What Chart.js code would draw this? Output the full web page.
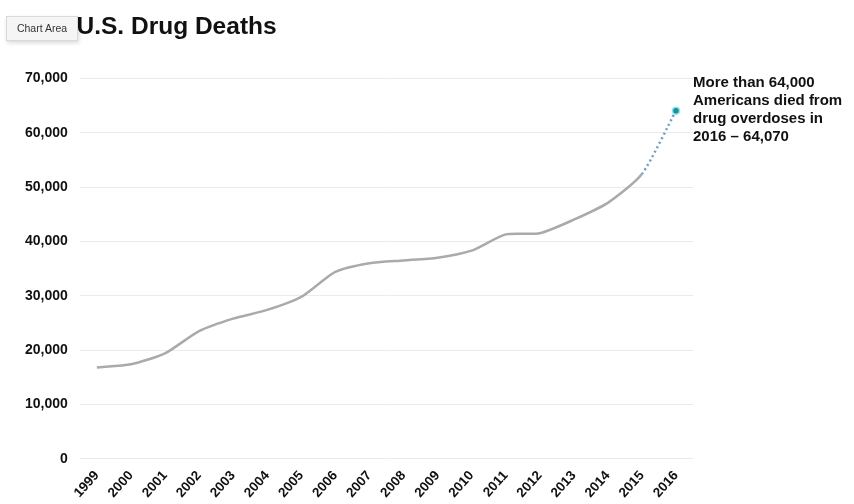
<!DOCTYPE html>
<html>
<head>
<meta charset="utf-8">
<script src="https://cdn.jsdelivr.net/npm/chart.js@4"></script>
<style>
  body { margin: 0; background: #fff; font-family: "Liberation Sans", Arial, sans-serif; }
  #wrap { position: relative; width: 854px; height: 504px; }
  #note { position: absolute; left: 693px; top: 73px; width: 161px; font-weight: bold; font-size: 15px; line-height: 18px; color: #111; }
  #tag { position: absolute; left: 6px; top: 16px; width: 70px; height: 23px; background: #f4f5f4; border: 1px solid #d8dad8; box-shadow: 1px 2px 4px rgba(0,0,0,0.15); font-size: 10.5px; line-height: 23px; text-align: center; color: #333; }
</style>
</head>
<body>
<div id="wrap">
  <canvas id="deathChart" width="854" height="504"></canvas>
  <div id="note">More than 64,000 Americans died from drug overdoses in 2016 – 64,070</div>
  <div id="tag">Chart Area</div>
</div>
<script>
// data
const years = ['1999','2000','2001','2002','2003','2004','2005','2006','2007','2008','2009','2010','2011','2012','2013','2014','2015','2016'];
const deaths = [16800, 17400, 19400, 23500, 25800, 27400, 29800, 34400, 36000, 36500, 37000, 38300, 41300, 41500, 44000, 47100, 52400, 64070];
const yTicks = [0, 10000, 20000, 30000, 40000, 50000, 60000, 70000];

const lastIdx = deaths.length - 1;
const FONT = '"Liberation Sans", Arial, sans-serif';

const ctx = document.getElementById('deathChart').getContext('2d');
new Chart(ctx, {
    type: 'line',
    data: {
        labels: years,
        datasets: [{
            label: 'Total U.S. Drug Deaths',
            data: deaths,
            borderColor: '#a8aca9',
            borderWidth: 2.5,
            tension: 0.22,
            pointRadius: c => c.dataIndex === lastIdx ? 3.5 : 0,
            pointBackgroundColor: '#1f8f96',
            pointBorderColor: '#8fe6ee',
            pointBorderWidth: 1.5,
            segment: {
                borderColor: s => s.p1DataIndex === lastIdx ? '#6f9fc0' : undefined,
                borderDash: s => s.p1DataIndex === lastIdx ? [2, 3] : undefined
            }
        }]
    },
    options: {
        responsive: false,
        animation: false,
        layout: { padding: { left: 13, right: 161, top: 0, bottom: 2 } },
        plugins: {
            legend: { display: false },
            tooltip: { enabled: false },
            title: {
                display: true,
                text: 'Total U.S. Drug Deaths',
                align: 'start',
                color: '#111',
                font: { family: FONT, size: 24.5, weight: 'bold' },
                padding: { top: 13, bottom: 36 }
            }
        },
        scales: {
            x: {
                offset: true,
                grid: { display: false },
                border: { display: false },
                ticks: {
                    color: '#111',
                    minRotation: 48, maxRotation: 48,
                    padding: 1,
                    font: { family: FONT, size: 13.5, weight: 'bold' }
                }
            },
            y: {
                min: 0, max: 70000,
                afterBuildTicks: axis => { axis.ticks = yTicks.map(v => ({ value: v })); },
                grid: { color: '#ebebeb', lineWidth: 1, drawTicks: false },
                border: { display: false },
                ticks: {
                    color: '#111',
                    padding: 12,
                    font: { family: FONT, size: 14, weight: 'bold' },
                    callback: v => v.toLocaleString('en-US')
                }
            }
        }
    }
});
</script>
</body>
</html>
